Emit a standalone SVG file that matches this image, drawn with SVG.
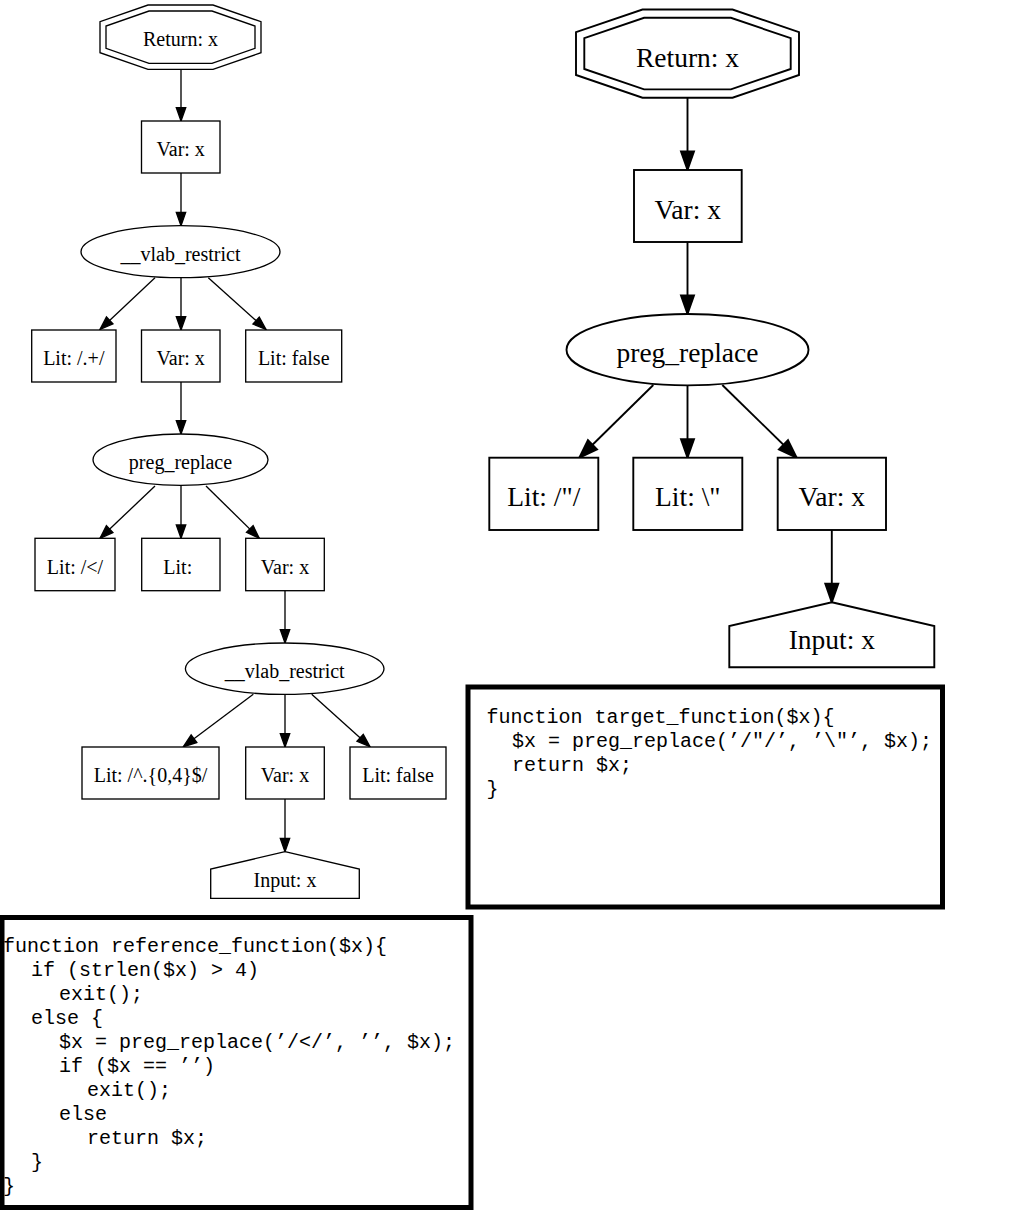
<svg xmlns="http://www.w3.org/2000/svg" width="1028" height="1215" viewBox="0 0 1028 1215">
<style>
.bg{fill:#fff}
.n1{fill:#fff;stroke:#000;stroke-width:1.33}
.n2{fill:#fff;stroke:#000;stroke-width:1.9}
.e1{fill:none;stroke:#000;stroke-width:1.33}
.e2{fill:none;stroke:#000;stroke-width:1.9}
.t1{font-family:"Liberation Serif","Times New Roman",serif;font-size:20px;text-anchor:middle;fill:#000}
.t2{font-family:"Liberation Serif","Times New Roman",serif;font-size:27.5px;text-anchor:middle;fill:#000}
.code{font-family:"Liberation Mono","Courier New",monospace;font-size:20px;fill:#000}
.box{fill:#fff;stroke:#000;stroke-width:5}
</style>
<defs>
<marker id="a1" markerUnits="userSpaceOnUse" markerWidth="20" markerHeight="14" refX="13.3" refY="5" orient="auto" overflow="visible">
<path d="M0,0.3 L13.3,5 L0,9.7 Z" fill="#000" stroke="#000" stroke-width="1.33"/>
</marker>
<marker id="a2" markerUnits="userSpaceOnUse" markerWidth="26" markerHeight="18" refX="18.5" refY="7" orient="auto" overflow="visible">
<path d="M0,0.5 L18.5,7 L0,13.5 Z" fill="#000" stroke="#000" stroke-width="1.9"/>
</marker>
</defs>
<rect class="bg" x="0" y="0" width="1028" height="1215"/>

<g id="connectors">
<g id="left-edges">
<line class="e1" x1="181" y1="69.4" x2="181" y2="121" marker-end="url(#a1)"/>
<line class="e1" x1="181" y1="173" x2="181" y2="225.7" marker-end="url(#a1)"/>
<line class="e1" x1="155" y1="277.7" x2="100" y2="329.5" marker-end="url(#a1)"/>
<line class="e1" x1="181" y1="277.7" x2="181" y2="330" marker-end="url(#a1)"/>
<line class="e1" x1="208.3" y1="277.7" x2="266" y2="329.5" marker-end="url(#a1)"/>
<line class="e1" x1="181" y1="382" x2="181" y2="434" marker-end="url(#a1)"/>
<line class="e1" x1="155" y1="486" x2="100" y2="538.3" marker-end="url(#a1)"/>
<line class="e1" x1="181" y1="485.4" x2="181" y2="538.3" marker-end="url(#a1)"/>
<line class="e1" x1="206" y1="486" x2="259.3" y2="538.3" marker-end="url(#a1)"/>
<line class="e1" x1="285" y1="590.7" x2="285" y2="643" marker-end="url(#a1)"/>
<line class="e1" x1="253.3" y1="694.3" x2="183.3" y2="746.7" marker-end="url(#a1)"/>
<line class="e1" x1="285" y1="694.4" x2="285" y2="747" marker-end="url(#a1)"/>
<line class="e1" x1="311.7" y1="694.3" x2="370" y2="746.7" marker-end="url(#a1)"/>
<line class="e1" x1="285" y1="799" x2="285" y2="851.7" marker-end="url(#a1)"/>
</g>
<g id="right-edges">
<line class="e2" x1="687.5" y1="97.7" x2="687.5" y2="170" marker-end="url(#a2)"/>
<line class="e2" x1="687.5" y1="242" x2="687.5" y2="314" marker-end="url(#a2)"/>
<line class="e2" x1="653.3" y1="385" x2="579.3" y2="457.7" marker-end="url(#a2)"/>
<line class="e2" x1="687.5" y1="385.4" x2="687.5" y2="457.7" marker-end="url(#a2)"/>
<line class="e2" x1="722.3" y1="385" x2="796.7" y2="457.7" marker-end="url(#a2)"/>
<line class="e2" x1="831.8" y1="530" x2="831.8" y2="602.3" marker-end="url(#a2)"/>
</g>
</g>

<g id="L_return">
<polygon class="n1" points="148,5 213,5 261,21.7 261,52.7 213,69.4 148,69.4 100,52.7 100,21.7"/>
<polygon class="n1" points="149,11 212,11 255,26 255,48.4 212,63.4 149,63.4 106,48.4 106,26"/>
<text class="t1" x="180.5" y="46.3">Return: x</text>
</g>
<g id="L_var1">
<rect class="n1" x="141.5" y="121" width="78.5" height="52"/>
<text class="t1" x="180.7" y="156.4">Var: x</text>
</g>
<g id="L_restrict1">
<ellipse class="n1" cx="180.5" cy="251.7" rx="99.5" ry="26"/>
<text class="t1" x="180.5" y="261">__vlab_restrict</text>
</g>
<g id="L_lit_dotplus">
<rect class="n1" x="31.7" y="330" width="84.3" height="52"/>
<text class="t1" x="73.8" y="365.4">Lit: /.+/</text>
</g>
<g id="L_var2">
<rect class="n1" x="141.5" y="330" width="78.5" height="52"/>
<text class="t1" x="180.7" y="365.4">Var: x</text>
</g>
<g id="L_lit_false1">
<rect class="n1" x="245.7" y="330" width="96" height="52"/>
<text class="t1" x="293.7" y="365.4">Lit: false</text>
</g>
<g id="L_preg">
<ellipse class="n1" cx="180.5" cy="459.7" rx="87.5" ry="25.7"/>
<text class="t1" x="180.5" y="469">preg_replace</text>
</g>
<g id="L_lit_lt">
<rect class="n1" x="35" y="538.3" width="80" height="52.4"/>
<text class="t1" x="75" y="573.8">Lit: /&lt;/</text>
</g>
<g id="L_lit_empty">
<rect class="n1" x="141.7" y="538.3" width="78.3" height="52.4"/>
<text class="t1" x="177.8" y="573.8">Lit:</text>
</g>
<g id="L_var3">
<rect class="n1" x="245.7" y="538.3" width="78.6" height="52.4"/>
<text class="t1" x="285" y="573.8">Var: x</text>
</g>
<g id="L_restrict2">
<ellipse class="n1" cx="284.7" cy="668.7" rx="99.3" ry="25.7"/>
<text class="t1" x="284.7" y="677.8">__vlab_restrict</text>
</g>
<g id="L_lit_len">
<rect class="n1" x="82" y="747" width="137" height="52"/>
<text class="t1" x="150.5" y="782.4">Lit: /^.{0,4}$/</text>
</g>
<g id="L_var4">
<rect class="n1" x="245.7" y="747" width="78.6" height="52"/>
<text class="t1" x="285" y="782.4">Var: x</text>
</g>
<g id="L_lit_false2">
<rect class="n1" x="350" y="747" width="96" height="52"/>
<text class="t1" x="398" y="782.4">Lit: false</text>
</g>
<g id="L_input">
<polygon class="n1" points="285,851.7 359.3,869 359.3,898.3 210.7,898.3 210.7,869"/>
<text class="t1" x="285" y="887">Input: x</text>
</g>

<g id="R_return">
<polygon class="n2" points="642.5,9.5 732.5,9.5 799,32.2 799,75 732.5,97.7 642.5,97.7 576,75 576,32.2"/>
<polygon class="n2" points="644.1,17.8 730.9,17.8 790.7,38.2 790.7,69 730.9,89.4 644.1,89.4 584.3,69 584.3,38.2"/>
<text class="t2" x="687.5" y="66.5">Return: x</text>
</g>
<g id="R_var1">
<rect class="n2" x="634" y="170" width="107.7" height="72"/>
<text class="t2" x="687.8" y="218.5">Var: x</text>
</g>
<g id="R_preg">
<ellipse class="n2" cx="687.5" cy="349.7" rx="121" ry="35.7"/>
<text class="t2" x="687.5" y="362.2">preg_replace</text>
</g>
<g id="R_lit_quote">
<rect class="n2" x="489.3" y="457.7" width="109" height="72.3"/>
<text class="t2" x="543.8" y="506">Lit: /"/</text>
</g>
<g id="R_lit_escaped">
<rect class="n2" x="633.3" y="457.7" width="109" height="72.3"/>
<text class="t2" x="687.8" y="506">Lit: \"</text>
</g>
<g id="R_var2">
<rect class="n2" x="777.7" y="457.7" width="108.3" height="72.3"/>
<text class="t2" x="831.8" y="506">Var: x</text>
</g>
<g id="R_input">
<polygon class="n2" points="831.8,602.3 934.3,626 934.3,667.3 729.3,667.3 729.3,626"/>
<text class="t2" x="831.8" y="648.8">Input: x</text>
</g>

<g id="target_code">
<rect class="box" x="468" y="687" width="474.5" height="220"/>
<text class="code" x="486.5" y="723">function target_function($x){</text>
<text class="code" x="512" y="747">$x = preg_replace(’/"/’, ’\"’, $x);</text>
<text class="code" x="512" y="771">return $x;</text>
<text class="code" x="486.5" y="795">}</text>
</g>

<g id="reference_code">
<rect class="box" x="2" y="917.5" width="469" height="290"/>
<text class="code" x="3" y="952">function reference_function($x){</text>
<text class="code" x="31" y="976">if (strlen($x) &gt; 4)</text>
<text class="code" x="59" y="1000">exit();</text>
<text class="code" x="31" y="1024">else {</text>
<text class="code" x="59" y="1048">$x = preg_replace(’/&lt;/’, ’’, $x);</text>
<text class="code" x="59" y="1072">if ($x == ’’)</text>
<text class="code" x="87" y="1096">exit();</text>
<text class="code" x="59" y="1120">else</text>
<text class="code" x="87" y="1144">return $x;</text>
<text class="code" x="31" y="1168">}</text>
<text class="code" x="3" y="1192">}</text>
</g>
</svg>
